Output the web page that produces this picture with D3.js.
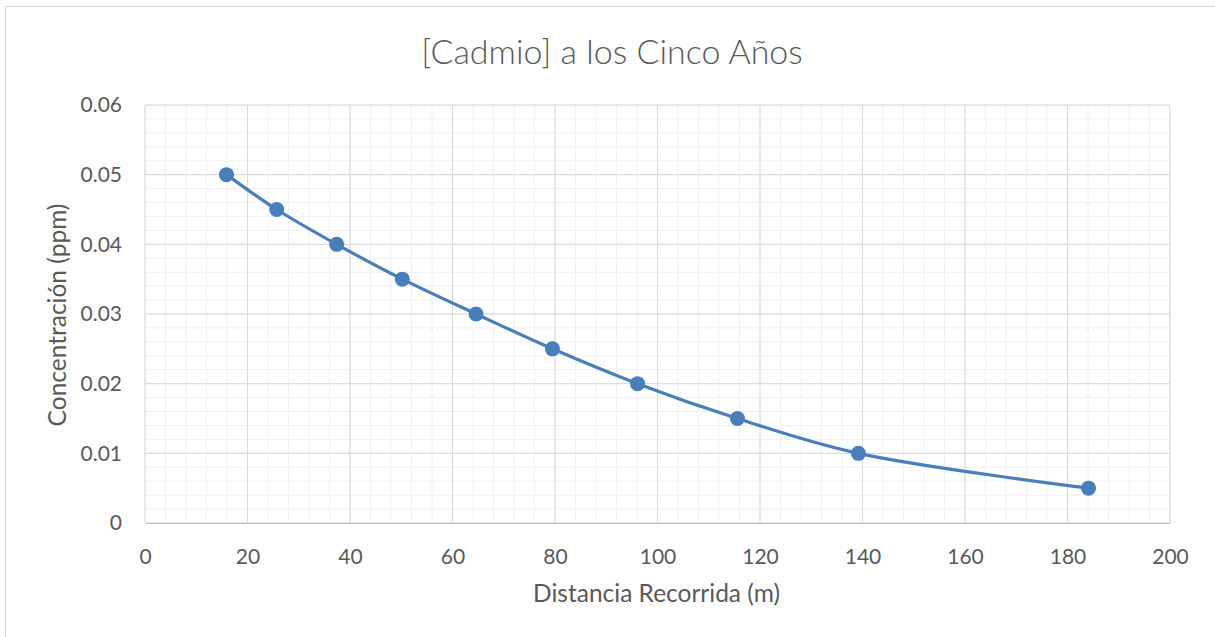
<!DOCTYPE html>
<html>
<head>
<meta charset="utf-8">
<script src="https://cdn.jsdelivr.net/npm/d3@7"></script>
<style>
  body { margin: 0; background: #fff; }
  text { font-family: Lato, "Open Sans", sans-serif; fill: #595959; }
</style>
</head>
<body>
<div id="chart"></div>
<script>
// distance travelled (m) and cadmium concentration (ppm)
var distancia = [15.9, 25.7, 37.4, 50.2, 64.6, 79.5, 96.1, 115.6, 139.2, 184.1];
var concentracion = [0.05, 0.045, 0.04, 0.035, 0.03, 0.025, 0.02, 0.015, 0.01, 0.005];
var xTicks = [0, 20, 40, 60, 80, 100, 120, 140, 160, 180, 200];
var yTicks = [0, 0.01, 0.02, 0.03, 0.04, 0.05, 0.06];

var data = distancia.map(function(d, i) { return {x: d, y: concentracion[i]}; });

var W = 1215, H = 637;
var margin = {top: 105, right: 45, bottom: 114, left: 145};
var width = W - margin.left - margin.right,
    height = H - margin.top - margin.bottom;

var svg = d3.select("#chart").append("svg")
    .attr("width", W).attr("height", H);

// chart frame
svg.append("rect")
    .attr("x", 5.5).attr("y", 6.5)
    .attr("width", W).attr("height", H)
    .attr("fill", "none").attr("stroke", "#d9d9d9");

var g = svg.append("g")
    .attr("transform", "translate(" + margin.left + "," + margin.top + ")");

var x = d3.scaleLinear().domain([0, 200]).range([0, width]);
var y = d3.scaleLinear().domain([0, 0.06]).range([height, 0]);

// minor grid
g.append("g").selectAll("line").data(d3.range(0, 201, 4))
  .enter().append("line")
    .attr("x1", function(d) { return x(d); }).attr("x2", function(d) { return x(d); })
    .attr("y1", 0).attr("y2", height)
    .attr("stroke", "#f0f0f0").attr("stroke-width", 1);
g.append("g").selectAll("line").data(d3.range(0, 31).map(function(i) { return i * 0.002; }))
  .enter().append("line")
    .attr("y1", function(d) { return y(d); }).attr("y2", function(d) { return y(d); })
    .attr("x1", 0).attr("x2", width)
    .attr("stroke", "#f0f0f0").attr("stroke-width", 1);

// major grid
g.append("g").selectAll("line").data(xTicks)
  .enter().append("line")
    .attr("x1", function(d) { return x(d); }).attr("x2", function(d) { return x(d); })
    .attr("y1", 0).attr("y2", height)
    .attr("stroke", "#d9d9d9").attr("stroke-width", 1);
g.append("g").selectAll("line").data(yTicks)
  .enter().append("line")
    .attr("y1", function(d) { return y(d); }).attr("y2", function(d) { return y(d); })
    .attr("x1", 0).attr("x2", width)
    .attr("stroke", "#d9d9d9").attr("stroke-width", 1);

// axes
var xAxis = g.append("g")
    .attr("transform", "translate(0," + height + ")")
    .call(d3.axisBottom(x).tickValues(xTicks).tickSize(0).tickPadding(34).tickFormat(d3.format("d")));
var yAxis = g.append("g")
    .call(d3.axisLeft(y).tickValues(yTicks).tickSize(0).tickPadding(23)
      .tickFormat(function(d) { return d === 0 ? "0" : d3.format(".2f")(d); }));
[xAxis, yAxis].forEach(function(a) {
  a.select(".domain").attr("stroke", "#bfbfbf");
  a.selectAll("text").style("font-size", "21px").attr("fill", "#595959");
});
xAxis.selectAll("text").attr("dy", "0.32em");
yAxis.select(".domain").remove();

// line
g.append("path")
    .datum(data)
    .attr("fill", "none")
    .attr("stroke", "#4a7ebb")
    .attr("stroke-width", 3.2)
    .attr("d", d3.line().curve(d3.curveCatmullRom.alpha(0.5))
      .x(function(d) { return x(d.x); })
      .y(function(d) { return y(d.y); }));

g.selectAll(".pt").data(data)
  .enter().append("circle")
    .attr("class", "pt")
    .attr("cx", function(d) { return x(d.x); })
    .attr("cy", function(d) { return y(d.y); })
    .attr("r", 7.5)
    .attr("fill", "#4a7ebb");

// title
svg.append("text")
    .attr("x", 612).attr("y", 52)
    .attr("dy", "0.35em")
    .attr("text-anchor", "middle")
    .style("font-size", "34px")
    .style("font-weight", 300)
    .text("[Cadmio] a los Cinco Años");

// axis titles
svg.append("text")
    .attr("x", margin.left + width / 2 - 1).attr("y", 593)
    .attr("dy", "0.35em")
    .attr("text-anchor", "middle")
    .style("font-size", "24.5px")
    .text("Distancia Recorrida (m)");

svg.append("text")
    .attr("transform", "translate(57," + (margin.top + height / 2 + 1) + ") rotate(-90)")
    .attr("dy", "0.35em")
    .attr("text-anchor", "middle")
    .style("font-size", "24.5px")
    .text("Concentración (ppm)");
</script>
</body>
</html>
